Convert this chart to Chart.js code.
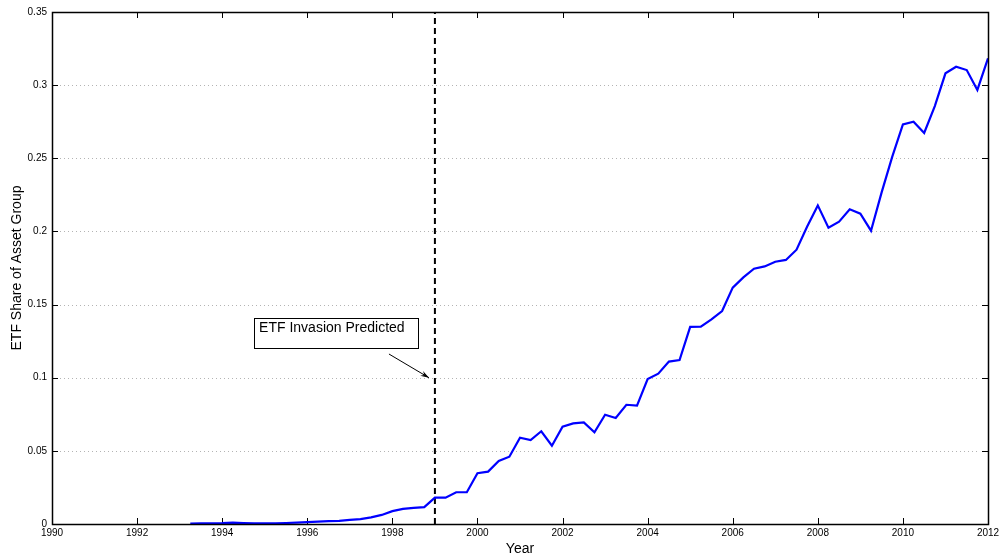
<!DOCTYPE html>
<html>
<head>
<meta charset="utf-8">
<script src="https://cdn.jsdelivr.net/npm/chart.js@4.4.0/dist/chart.umd.min.js"></script>
<style>
html,body{margin:0;padding:0;background:#fff;}
canvas{display:block;}
</style>
</head>
<body>
<canvas id="c" width="1004" height="560"></canvas>
<script>
// Quarterly observations (year)
const quarters = [
  1993.25,1993.5,1993.75,1994,1994.25,1994.5,1994.75,1995,1995.25,1995.5,1995.75,
  1996,1996.25,1996.5,1996.75,1997,1997.25,1997.5,1997.75,1998,1998.25,1998.5,1998.75,
  1999,1999.25,1999.5,1999.75,2000,2000.25,2000.5,2000.75,2001,2001.25,2001.5,2001.75,
  2002,2002.25,2002.5,2002.75,2003,2003.25,2003.5,2003.75,2004,2004.25,2004.5,2004.75,
  2005,2005.25,2005.5,2005.75,2006,2006.25,2006.5,2006.75,2007,2007.25,2007.5,2007.75,
  2008,2008.25,2008.5,2008.75,2009,2009.25,2009.5,2009.75,2010,2010.25,2010.5,2010.75,
  2011,2011.25,2011.5,2011.75,2012
];
// ETF share of asset group
const etfShare = [
  0.0003,0.0004,0.0005,0.0006,0.0009,0.0007,0.0004,0.0004,0.0005,0.0007,0.0010,
  0.0013,0.0016,0.0020,0.0022,0.0028,0.0033,0.0045,0.0062,0.0088,0.0103,0.0110,0.0115,
  0.0180,0.0180,0.0217,0.0217,0.0347,0.0358,0.0431,0.0460,0.0590,0.0574,0.0634,0.0535,
  0.0665,0.0688,0.0695,0.0627,0.0747,0.0725,0.0815,0.0809,0.0991,0.1028,0.1110,0.1121,
  0.1347,0.1349,0.1399,0.1456,0.1616,0.1686,0.1745,0.1761,0.1793,0.1805,0.1875,0.2033,
  0.2178,0.2026,0.2067,0.2151,0.2121,0.2005,0.2267,0.2511,0.2732,0.2750,0.2673,0.2857,
  0.3081,0.3126,0.3103,0.2967,0.3183
];
// Prediction marker
const predictionYear = 1999;
const predictionSpan = [0, 0.35];
const annotationText = "ETF Invasion Predicted";
const annotationArrowFrom = [1997.92, 0.1162];
const annotationArrowTo = [1998.86, 0.1];
const annotationBox = [1994.75, 1998.6, 0.1408, 0.1203]; // xmin,xmax,ytop,ybottom

const xTicks = [1990,1992,1994,1996,1998,2000,2002,2004,2006,2008,2010,2012];
const xTickLabels = ["1990","1992","1994","1996","1998","2000","2002","2004","2006","2008","2010","2012"];
const yTicks = [0,0.05,0.1,0.15,0.2,0.25,0.3,0.35];
const yTickLabels = ["0","0.05","0.1","0.15","0.2","0.25","0.3","0.35"];

const FONT = "'Liberation Sans', Arial, Helvetica, sans-serif";

const lineData = quarters.map((q, i) => ({x: q, y: etfShare[i]}));
const predData = predictionSpan.map(v => ({x: predictionYear, y: v}));

const framePlugin = {
  id: 'frame',
  beforeDatasetsDraw(chart) {
    const {ctx, chartArea: a, scales: {x, y}} = chart;
    ctx.save();
    // dotted grid
    ctx.strokeStyle = '#b4b4b4';
    ctx.lineWidth = 1;
    ctx.setLineDash([1, 3]);
    yTicks.forEach(v => {
      if (v === yTicks[0] || v === yTicks[yTicks.length - 1]) return;
      const py = Math.round(y.getPixelForValue(v)) + 0.5;
      ctx.beginPath(); ctx.moveTo(a.left + 8, py); ctx.lineTo(a.right - 8, py); ctx.stroke();
    });
    ctx.setLineDash([]);
    // inward ticks
    ctx.strokeStyle = '#000';
    ctx.lineWidth = 1;
    const tl = 6;
    xTicks.forEach(v => {
      const px = Math.round(x.getPixelForValue(v)) + 0.5;
      ctx.beginPath(); ctx.moveTo(px, a.bottom); ctx.lineTo(px, a.bottom - tl); ctx.stroke();
      ctx.beginPath(); ctx.moveTo(px, a.top); ctx.lineTo(px, a.top + tl); ctx.stroke();
    });
    yTicks.forEach(v => {
      const py = Math.round(y.getPixelForValue(v)) + 0.5;
      ctx.beginPath(); ctx.moveTo(a.left, py); ctx.lineTo(a.left + tl, py); ctx.stroke();
      ctx.beginPath(); ctx.moveTo(a.right, py); ctx.lineTo(a.right - tl, py); ctx.stroke();
    });
    ctx.restore();
  },
  afterDatasetsDraw(chart) {
    const {ctx, chartArea: a, scales: {x, y}} = chart;
    ctx.save();
    // box
    ctx.strokeStyle = '#000';
    ctx.lineWidth = 1.5;
    ctx.strokeRect(Math.round(a.left) + 0.5, Math.round(a.top) + 0.5,
                   Math.round(a.right - a.left), Math.round(a.bottom - a.top));
    // annotation box
    const bx0 = x.getPixelForValue(annotationBox[0]);
    const bx1 = x.getPixelForValue(annotationBox[1]);
    const by0 = y.getPixelForValue(annotationBox[2]);
    const by1 = y.getPixelForValue(annotationBox[3]);
    ctx.fillStyle = '#fff';
    ctx.fillRect(bx0, by0, bx1 - bx0, by1 - by0);
    ctx.lineWidth = 1;
    ctx.strokeStyle = '#000';
    ctx.strokeRect(Math.round(bx0) + 0.5, Math.round(by0) + 0.5, Math.round(bx1 - bx0), Math.round(by1 - by0));
    ctx.fillStyle = '#000';
    ctx.font = '14px ' + FONT;
    ctx.textBaseline = 'middle';
    ctx.textAlign = 'left';
    ctx.fillText(annotationText, bx0 + 5, by0 + 10);
    // arrow
    const ax0 = x.getPixelForValue(annotationArrowFrom[0]);
    const ay0 = y.getPixelForValue(annotationArrowFrom[1]);
    const ax1 = x.getPixelForValue(annotationArrowTo[0]);
    const ay1 = y.getPixelForValue(annotationArrowTo[1]);
    ctx.lineWidth = 1;
    ctx.beginPath(); ctx.moveTo(ax0, ay0); ctx.lineTo(ax1, ay1); ctx.stroke();
    const ang = Math.atan2(ay1 - ay0, ax1 - ax0);
    const hl = 9, hw = 0.32;
    ctx.beginPath();
    ctx.moveTo(ax1, ay1);
    ctx.lineTo(ax1 - hl * Math.cos(ang - hw), ay1 - hl * Math.sin(ang - hw));
    ctx.lineTo(ax1 - hl * 0.6 * Math.cos(ang), ay1 - hl * 0.6 * Math.sin(ang));
    ctx.lineTo(ax1 - hl * Math.cos(ang + hw), ay1 - hl * Math.sin(ang + hw));
    ctx.closePath();
    ctx.fillStyle = '#000';
    ctx.fill();
    ctx.restore();
  }
};

new Chart(document.getElementById('c'), {
  type: 'line',
  data: {
    datasets: [
      {
        data: lineData,
        borderColor: '#0000ff',
        borderWidth: 2.2,
        pointRadius: 0,
        tension: 0,
        fill: false
      },
      {
        data: predData,
        borderColor: '#000',
        borderWidth: 2,
        borderDash: [6, 4],
        pointRadius: 0,
        fill: false
      }
    ]
  },
  options: {
    responsive: false,
    animation: false,
    layout: {padding: {top: 12, right: 16, left: 0, bottom: 0}},
    plugins: {legend: {display: false}, tooltip: {enabled: false}},
    scales: {
      x: {
        type: 'linear',
        min: xTicks[0],
        max: xTicks[xTicks.length - 1],
        afterBuildTicks(s) { s.ticks = xTicks.map(v => ({value: v})); },
        afterFit(s) { s.height = 36; },
        grid: {display: false, drawTicks: false},
        border: {display: false},
        ticks: {
          padding: 3,
          maxRotation: 0,
          autoSkip: false,
          color: '#000',
          font: {family: FONT, size: 10},
          callback: (v, i) => xTickLabels[i]
        },
        title: {
          display: true,
          text: 'Year',
          color: '#000',
          font: {family: FONT, size: 14},
          padding: {top: 0, bottom: 2}
        }
      },
      y: {
        type: 'linear',
        min: yTicks[0],
        max: yTicks[yTicks.length - 1],
        afterBuildTicks(s) { s.ticks = yTicks.map(v => ({value: v})); },
        afterFit(s) { s.width = 52; },
        grid: {display: false, drawTicks: false},
        border: {display: false},
        ticks: {
          padding: 5,
          autoSkip: false,
          color: '#000',
          font: {family: FONT, size: 10},
          callback: (v, i) => yTickLabels[i]
        },
        title: {
          display: true,
          text: 'ETF Share of Asset Group',
          color: '#000',
          font: {family: FONT, size: 14},
          padding: {top: 9, bottom: 0}
        }
      }
    }
  },
  plugins: [framePlugin]
});
</script>
</body>
</html>
